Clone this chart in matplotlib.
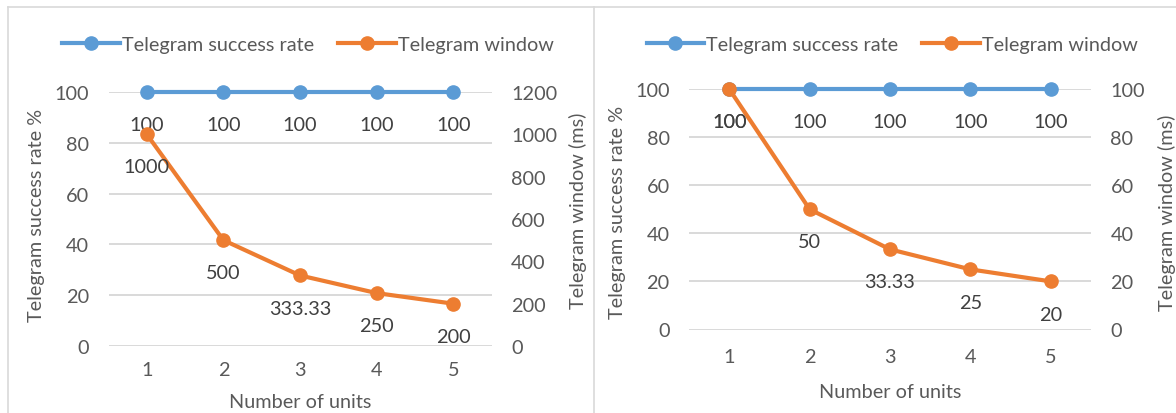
import matplotlib
matplotlib.use("Agg")
import matplotlib.pyplot as plt
from matplotlib.lines import Line2D

# ---- data ----
units = [1, 2, 3, 4, 5]
success_rate_a = [100, 100, 100, 100, 100]
window_a = [1000, 500, 333.33, 250, 200]
window_labels_a = ["1000", "500", "333.33", "250", "200"]
success_rate_b = [100, 100, 100, 100, 100]
window_b = [100, 50, 33.33, 25, 20]
window_labels_b = ["100", "50", "33.33", "25", "20"]
left_ticks = [0, 20, 40, 60, 80, 100]
right_ticks_a = [0, 200, 400, 600, 800, 1000, 1200]
right_ticks_b = [0, 20, 40, 60, 80, 100]

plt.rcParams['font.family'] = ['Lato', 'DejaVu Sans']
FS = 14.3
TXT = '#595959'
BLUE = '#5B9BD5'
ORANGE = '#ED7D31'
GRID = '#D9D9D9'

W, H = 1176, 414
fig = plt.figure(figsize=(W / 100, H / 100), dpi=100)


def px_rect(x0, x1, ytop, ybot):
    return [x0 / W, 1 - ybot / H, (x1 - x0) / W, (ybot - ytop) / H]


def panel(rect, sr, win, win_labels, rticks, legend_cx, xlab_xy, ylab_l, ylab_r, xpad):
    ax = fig.add_axes(rect)
    ax2 = ax.twinx()
    ax.set_xlim(0.5, 5.5)
    ax.set_ylim(0, 100)
    ax2.set_ylim(0, rticks[-1])
    ax.set_yticks(left_ticks)
    ax2.set_yticks(rticks)
    ax.set_xticks(units)
    ax.yaxis.grid(True, color=GRID, lw=1.4)
    ax.set_axisbelow(True)
    for a in (ax, ax2):
        for s in a.spines.values():
            s.set_visible(False)
        a.tick_params(length=0, labelsize=FS, labelcolor=TXT)
    ax.tick_params(axis='y', pad=14)
    ax2.tick_params(axis='y', pad=14)
    ax.tick_params(axis='x', pad=xpad)
    l1, = ax.plot(units, sr, color=BLUE, lw=3, marker='o', ms=9.5,
                  label='Telegram success rate', zorder=3, clip_on=False)
    l2, = ax2.plot(units, win, color=ORANGE, lw=3, marker='o', ms=9.5,
                   label='Telegram window', zorder=3, clip_on=False)
    for x, v in zip(units, sr):
        ax.annotate(f"{v}", (x, v), xytext=(0, -23.5), textcoords='offset points',
                    ha='center', va='center', fontsize=FS, color='#404040', zorder=5)
    for x, v, lab in zip(units, win, win_labels):
        ax2.annotate(lab, (x, v), xytext=(0, -23.5), textcoords='offset points',
                     ha='center', va='center', fontsize=FS, color='#404040', zorder=5)
    fig.legend(handles=[l1, l2], loc='center', bbox_to_anchor=(legend_cx / W, 1 - 45 / H),
               ncol=2, frameon=False, fontsize=FS, handlelength=2.9, handletextpad=0.1,
               columnspacing=1.2, labelcolor=TXT, borderaxespad=0)
    fig.text(xlab_xy[0] / W, 1 - xlab_xy[1] / H, 'Number of units', ha='center', va='center',
             fontsize=FS, color=TXT)
    fig.text(ylab_l[0] / W, 1 - ylab_l[1] / H, 'Telegram success rate %', rotation=90,
             ha='center', va='center', fontsize=FS, color=TXT)
    fig.text(ylab_r[0] / W, 1 - ylab_r[1] / H, 'Telegram window (ms)', rotation=90,
             ha='center', va='center', fontsize=FS, color=TXT)
    return ax, ax2


panel(px_rect(108.5, 491.5, 93, 347), success_rate_a, window_a, window_labels_a, right_ticks_a,
      308, (300, 403), (37, 215), (578, 211), 11)
panel(px_rect(689, 1091, 90, 330.5), success_rate_b, window_b, window_labels_b, right_ticks_b,
      892, (890, 393), (617, 212), (1167, 213), 13)

# chart borders
for xs, ys in [([8, 8], [414, 8]), ([8, 1176], [8, 8]), ([593.5, 593.5], [414, 8])]:
    fig.add_artist(Line2D([x / W for x in xs], [1 - y / H for y in ys],
                          transform=fig.transFigure, color=GRID, lw=1.2))

fig.savefig('out.png', dpi=100)
